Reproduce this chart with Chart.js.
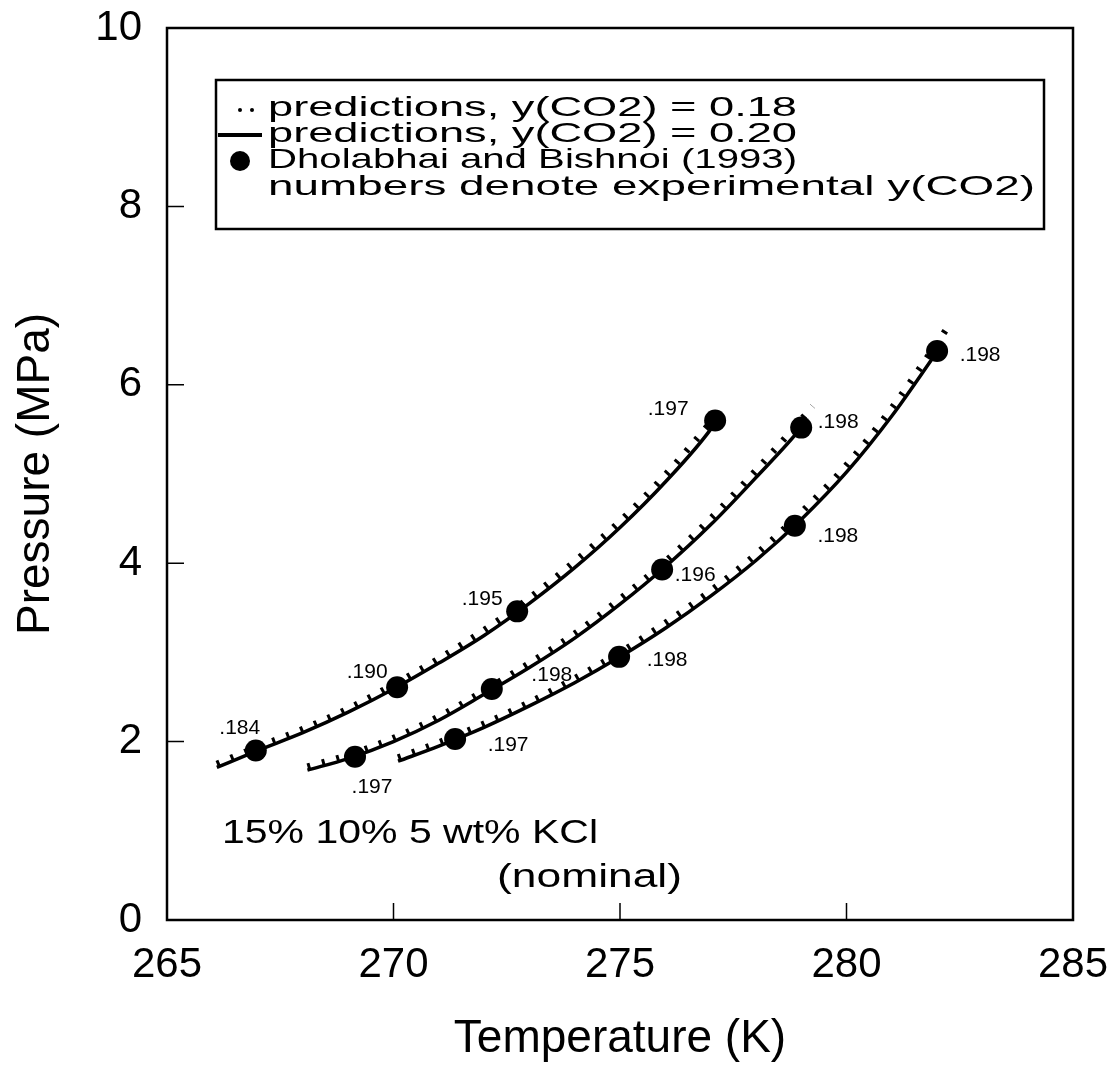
<!DOCTYPE html>
<html>
<head>
<meta charset="utf-8">
<script src="https://cdn.jsdelivr.net/npm/chart.js@4.4.0/dist/chart.umd.min.js"></script>
<style>
  html, body { margin: 0; padding: 0; background: #fff; }
</style>
</head>
<body>
<canvas id="myChart" width="1114" height="1075"></canvas>
<script>
// temperature ticks / pressure ticks
var xTicks = [265, 270, 275, 280, 285];
var yTicks = [0, 2, 4, 6, 8, 10];

// 15 wt% KCl predictions (y(CO2)=0.20 solid, 0.18 dotted)
var tA20 = [266.1, 267, 268, 269, 270, 271, 272, 273, 274, 275, 276, 277, 277.15];
var pA20 = [1.71, 1.90, 2.10, 2.33, 2.59, 2.88, 3.19, 3.55, 3.95, 4.40, 4.91, 5.50, 5.62];
var tA18 = [266.1, 267, 268, 269, 270, 271, 272, 273, 274, 275, 276, 277, 277.3];
var pA18 = [1.75, 1.94, 2.14, 2.37, 2.64, 2.93, 3.25, 3.61, 4.02, 4.47, 4.99, 5.58, 5.77];

// 10 wt% KCl
var tB20 = [268.1, 269, 270, 271, 272, 273, 274, 275, 276, 277, 278, 279, 279.1];
var pB20 = [1.68, 1.81, 2.00, 2.24, 2.53, 2.83, 3.16, 3.54, 3.96, 4.43, 4.96, 5.52, 5.59];
var tB18 = [268.1, 269, 270, 271, 272, 273, 274, 275, 276, 277, 278, 279, 279.25];
var pB18 = [1.72, 1.85, 2.04, 2.28, 2.57, 2.88, 3.21, 3.60, 4.02, 4.50, 5.04, 5.61, 5.76];

// 5 wt% KCl
var tC20 = [270.1, 271, 272, 273, 274, 275, 276, 277, 278, 279, 280, 281, 282];
var pC20 = [1.78, 1.95, 2.16, 2.40, 2.66, 2.95, 3.27, 3.63, 4.03, 4.49, 5.02, 5.65, 6.37];
var tC18 = [270.1, 271, 272, 273, 274, 275, 276, 277, 278, 279, 280, 281, 282, 282.2];
var pC18 = [1.82, 1.99, 2.20, 2.44, 2.71, 3.00, 3.33, 3.69, 4.10, 4.57, 5.10, 5.74, 6.47, 6.62];

// Dholabhai and Bishnoi (1993) data
var expT = [266.96, 270.08, 272.73, 277.1, 269.15, 272.17, 275.93, 279.0, 271.36, 274.98, 278.86, 282.0];
var expP = [1.90, 2.61, 3.46, 5.60, 1.83, 2.59, 3.93, 5.52, 2.03, 2.95, 4.42, 6.38];
var expY = ['.184', '.190', '.195', '.197', '.197', '.198', '.196', '.198', '.197', '.198', '.198', '.198'];
// where each number sits relative to its dot (px)
var labelDx = [-16, -30, -35, -47, 17, 60, 33, 37, 53, 48, 43, 43];
var labelDy = [-22, -15, -12, -11, 30, -14, 6, -5, 6, 3, 10, 4];

var FONT = "'Liberation Sans', Arial, Helvetica, sans-serif";
Chart.defaults.font.family = FONT;
Chart.defaults.color = '#000';

function pts(t, p) {
    return t.map(function (v, i) { return { x: v, y: p[i] }; });
}

function solid(t, p) {
    return { data: pts(t, p), borderColor: '#000', borderWidth: 3.5, pointRadius: 0,
             cubicInterpolationMode: 'monotone', fill: false };
}
function dotted(t, p) {
    return { data: pts(t, p), borderColor: '#000', borderWidth: 6.5, borderDash: [3, 12],
             borderCapStyle: 'butt', pointRadius: 0, cubicInterpolationMode: 'monotone', fill: false };
}

// text squeezed/stretched horizontally to run from x0 to x1
function fitText(ctx, txt, x0, x1, y, size) {
    ctx.save();
    ctx.font = size + 'px ' + FONT;
    ctx.textBaseline = 'middle';
    ctx.textAlign = 'left';
    var sx = (x1 - x0) / ctx.measureText(txt).width;
    ctx.translate(x0, y);
    ctx.scale(sx, 1);
    ctx.fillText(txt, 0, 0);
    ctx.restore();
}

var decor = {
    id: 'decor',
    afterDraw: function (chart) {
        var ctx = chart.ctx, a = chart.chartArea;
        var xs = chart.scales.x, ys = chart.scales.y;
        ctx.save();
        ctx.strokeStyle = '#000';
        ctx.fillStyle = '#000';

        // frame
        ctx.lineWidth = 2.5;
        ctx.strokeRect(a.left, a.top, a.right - a.left, a.bottom - a.top);

        // inward ticks
        ctx.lineWidth = 1.5;
        ctx.beginPath();
        xTicks.slice(1, -1).forEach(function (v) {
            var px = xs.getPixelForValue(v);
            ctx.moveTo(px, a.bottom); ctx.lineTo(px, a.bottom - 17);
        });
        yTicks.slice(1, -1).forEach(function (v) {
            var py = ys.getPixelForValue(v);
            ctx.moveTo(a.left, py); ctx.lineTo(a.left + 17, py);
        });
        ctx.stroke();

        // legend box
        ctx.lineWidth = 2.5;
        ctx.strokeRect(216, 80, 828, 149);
        ctx.beginPath(); ctx.arc(240, 110, 2, 0, Math.PI * 2); ctx.fill();
        ctx.beginPath(); ctx.arc(252, 110, 2, 0, Math.PI * 2); ctx.fill();
        ctx.lineWidth = 4;
        ctx.beginPath(); ctx.moveTo(218, 135); ctx.lineTo(262, 135); ctx.stroke();
        ctx.beginPath(); ctx.arc(240, 161, 10, 0, Math.PI * 2); ctx.fill();
        fitText(ctx, 'predictions, y(CO2) = 0.18', 268, 797, 108, 28);
        fitText(ctx, 'predictions, y(CO2) = 0.20', 268, 797, 134, 28);
        fitText(ctx, 'Dholabhai and Bishnoi (1993)', 268, 797, 160, 28);
        fitText(ctx, 'numbers denote experimental y(CO2)', 268, 1035, 187, 28);

        // salinity note
        fitText(ctx, '15% 10% 5 wt% KCl', 222, 598, 834, 33);
        fitText(ctx, '(nominal)', 497, 682, 878, 33);

        // experimental y(CO2) numbers
        var meta = chart.getDatasetMeta(chart.data.datasets.length - 1);
        ctx.font = '21px ' + FONT;
        ctx.textAlign = 'center';
        ctx.textBaseline = 'middle';
        meta.data.forEach(function (el, i) {
            ctx.fillText(expY[i], el.x + labelDx[i], el.y + labelDy[i]);
        });
        ctx.restore();
    }
};

var ctx = document.getElementById('myChart').getContext('2d');
var chart = new Chart(ctx, {
    type: 'line',
    data: {
        datasets: [
            dotted(tA18, pA18), solid(tA20, pA20),
            dotted(tB18, pB18), solid(tB20, pB20),
            dotted(tC18, pC18), solid(tC20, pC20),
            {
                type: 'scatter',
                data: pts(expT, expP),
                showLine: false,
                pointRadius: 11,
                pointBackgroundColor: '#000',
                pointBorderColor: '#000',
                pointBorderWidth: 0
            }
        ]
    },
    options: {
        responsive: false,
        animation: false,
        layout: { padding: { left: 0, right: 41, top: 28, bottom: 0 } },
        plugins: { legend: { display: false }, tooltip: { enabled: false } },
        scales: {
            x: {
                type: 'linear', min: 265, max: 285,
                afterBuildTicks: function (s) { s.ticks = xTicks.map(function (v) { return { value: v }; }); },
                ticks: { font: { size: 42 }, color: '#000', padding: 20 },
                grid: { display: false, drawTicks: false },
                border: { display: false },
                title: { display: true, text: 'Temperature (K)', font: { size: 46 }, color: '#000',
                         padding: { top: 0, bottom: 8 } },
                afterFit: function (s) { s.height = 155; s.paddingLeft = 0; s.paddingRight = 0; }
            },
            y: {
                type: 'linear', min: 0, max: 10,
                afterBuildTicks: function (s) { s.ticks = yTicks.map(function (v) { return { value: v }; }); },
                ticks: { font: { size: 42 }, color: '#000', padding: 25 },
                grid: { display: false, drawTicks: false },
                border: { display: false },
                title: { display: true, text: 'Pressure (MPa)', font: { size: 46 }, color: '#000',
                         padding: { top: 9, bottom: 0 } },
                afterFit: function (s) { s.width = 167; s.paddingTop = 0; s.paddingBottom = 0; }
            }
        }
    },
    plugins: [decor]
});
</script>
</body>
</html>
